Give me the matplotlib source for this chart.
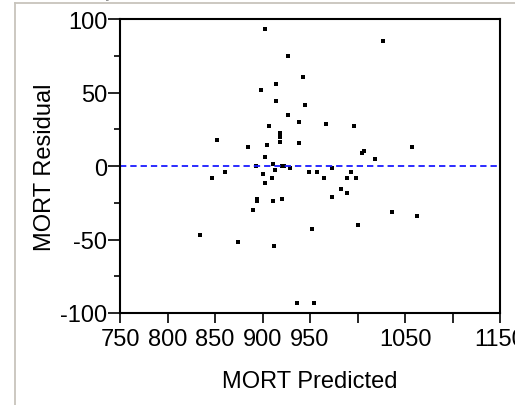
import numpy as np
import matplotlib
matplotlib.use("Agg")
import matplotlib.pyplot as plt
from matplotlib.lines import Line2D

plt.rcParams['font.family'] = ['Liberation Sans', 'DejaVu Sans']
plt.rcParams['axes.unicode_minus'] = False

# predicted mortality and residuals, one entry per city
predicted = [902.6, 1026.8, 926.5, 942.6, 914.2, 898.7, 914.2, 944.7, 926.5, 938.4,
             966.8, 906.8, 996.6, 918.5, 918.5, 918.5, 852.4, 904.6, 938.7, 884.7,
             1057.0, 1006.5, 1004.7, 902.5, 1018.4, 892.8, 910.7, 920.5, 922.3, 928.8,
             912.7, 972.8, 860.5, 948.5, 957.0, 992.8, 900.5, 846.5, 910.5, 964.7,
             988.9, 998.8, 902.5, 982.6, 988.9, 972.8, 894.5, 894.5, 910.6, 920.5,
             890.3, 1036.6, 1062.6, 1000.5, 952.4, 834.5, 874.6, 912.6, 936.6, 954.5]
residual = [93.2, 85.2, 75.0, 60.7, 55.6, 51.9, 44.0, 41.3, 34.9, 29.7,
            28.3, 27.2, 27.2, 22.5, 19.5, 16.5, 17.9, 14.3, 15.4, 13.1,
            12.8, 10.2, 9.0, 6.3, 5.0, 0.0, 1.4, 0.0, 0.0, -1.6,
            -2.9, -1.6, -3.9, -3.9, -3.9, -3.9, -5.2, -7.9, -7.9, -7.9,
            -7.9, -7.9, -11.8, -15.6, -18.1, -20.9, -22.4, -23.8, -23.6, -22.2,
            -29.9, -31.3, -33.8, -40.4, -42.9, -46.7, -51.9, -54.5, -93.4, -93.4]

x_ticks = [750, 800, 850, 900, 950, 1000, 1050, 1100, 1150]
x_tick_labels = ['750', '800', '850', '900', '950', '', '1050', '', '1150']
y_ticks = [-100, -50, 0, 50, 100]
y_minor = [-75, -25, 25, 75]

fig = plt.figure(figsize=(5.15, 4.06), dpi=100)
ax = fig.add_axes([120 / 515, 92 / 406, 380 / 515, 294 / 406])

ax.plot(predicted, residual, linestyle='none', marker='s', markersize=2.6,
        color='black', markeredgewidth=0)
ax.axhline(0, color='#1a1aff', linewidth=1.3, linestyle=(0, (3.5, 2.2)))

ax.set_xlim(750, 1150)
ax.set_ylim(-100, 100)
ax.set_xticks(x_ticks)
ax.set_xticklabels(x_tick_labels)
ax.set_yticks(y_ticks)
ax.set_yticks(y_minor, minor=True)

for s in ax.spines.values():
    s.set_linewidth(1.5)
ax.tick_params(axis='x', which='major', length=7.5, width=1.2, pad=3, labelsize=17)
ax.tick_params(axis='y', which='major', length=8.5, width=1.2, pad=0.5, labelsize=17)
ax.tick_params(axis='y', which='minor', length=4.5, width=1.2)

ax.set_xlabel('MORT Predicted', fontsize=17, labelpad=15)
ax.set_ylabel('MORT Residual', fontsize=17, labelpad=3)

# window chrome around the report panel
fig.add_artist(Line2D([15 / 515, 15 / 515], [0, 1 - 4 / 406],
                      color='#c8c4bc', linewidth=1.3, transform=fig.transFigure))
fig.add_artist(Line2D([15 / 515, 1], [1 - 4 / 406, 1 - 4 / 406],
                      color='#c8c4bc', linewidth=1.3, transform=fig.transFigure))
fig.text(20 / 515, 1 + 3 / 406, 'Residual by Predicted Plot', fontsize=13,
         color='#909090', va='baseline', ha='left')

fig.savefig('out.png', dpi=100)
